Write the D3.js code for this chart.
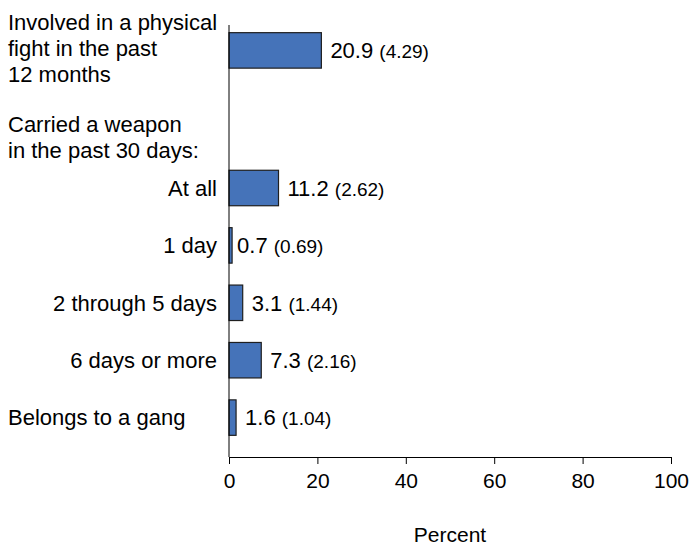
<!DOCTYPE html>
<html>
<head>
<meta charset="utf-8">
<script src="https://cdn.jsdelivr.net/npm/d3@7"></script>
<style>
  html, body { margin: 0; padding: 0; background: #fff; }
  svg { display: block; font-family: "Liberation Sans", Arial, sans-serif; }
</style>
</head>
<body>
<svg id="chart" width="690" height="546"></svg>
<script>
// ---- Data ----
const topCategory = "Involved in a physical fight in the past 12 months";
const topLabelLines = ["Involved in a physical", "fight in the past", "12 months"];
const topValue = 20.9;
const topError = 4.29;

const headerLines = ["Carried a weapon", "in the past 30 days:"];

const categories = ["At all", "1 day", "2 through 5 days", "6 days or more", "Belongs to a gang"];
const values = [11.2, 0.7, 3.1, 7.3, 1.6];
const stdErrors = [2.62, 0.69, 1.44, 2.16, 1.04];
const leftAligned = ["Belongs to a gang"];

const xTicks = [0, 20, 40, 60, 80, 100];
const xTitle = "Percent";

// ---- Layout ----
const svg = d3.select("#chart");
const x0 = 229, x1 = 671, axisY = 457, axisTop = 25;
const barFill = "#4573b9", barStroke = "#1f1f1f";

const x = d3.scaleLinear().domain([0, 100]).range([x0, x1]);
const y = d3.scaleBand().domain(categories).range([159.3, 446.3])
  .paddingInner(0.382).paddingOuter(0.191);

const topBarY = y(categories[0]) - 137.6;

// rows combined
const rows = [{cat: topCategory, v: topValue, se: topError, yTop: topBarY}]
  .concat(categories.map((c, i) => ({cat: c, v: values[i], se: stdErrors[i], yTop: y(c)})));

const bw = y.bandwidth();

// bars
svg.append("g").selectAll("rect").data(rows).join("rect")
  .attr("x", x(0))
  .attr("y", d => d.yTop)
  .attr("width", d => x(d.v) - x(0))
  .attr("height", bw)
  .attr("fill", barFill)
  .attr("stroke", barStroke)
  .attr("stroke-width", 1.2);

// value labels
const vl = svg.append("g").selectAll("text").data(rows).join("text")
  .attr("x", d => x(d.v) + (d.v < 1 ? 5 : 9))
  .attr("y", d => d.yTop + bw / 2)
  .attr("dy", "0.35em")
  .attr("font-size", 22)
  .attr("fill", "#000");
vl.append("tspan").text(d => d.v.toFixed(1) + " ");
vl.append("tspan").attr("font-size", 19).text(d => "(" + d.se.toFixed(2) + ")");

// category labels (right-aligned)
svg.append("g").selectAll("text")
  .data(categories.filter(c => !leftAligned.includes(c))).join("text")
  .attr("x", 217)
  .attr("y", d => y(d) + bw / 2)
  .attr("dy", "0.35em")
  .attr("text-anchor", "end")
  .attr("font-size", 22)
  .text(d => d);

// left-aligned category labels
svg.append("g").selectAll("text")
  .data(categories.filter(c => leftAligned.includes(c))).join("text")
  .attr("x", 8)
  .attr("y", d => y(d) + bw / 2)
  .attr("dy", "0.35em")
  .attr("font-size", 22)
  .text(d => d);

// top multi-line label
svg.append("g").selectAll("text").data(topLabelLines).join("text")
  .attr("x", 8)
  .attr("y", (d, i) => topBarY + bw / 2 - 20.5 + i * 26)
  .attr("font-size", 22)
  .text(d => d);

// header
svg.append("g").selectAll("text").data(headerLines).join("text")
  .attr("x", 8)
  .attr("y", (d, i) => 131.7 + i * 26.3)
  .attr("font-size", 22)
  .text(d => d);

// y axis line
svg.append("line")
  .attr("x1", x0).attr("x2", x0)
  .attr("y1", axisTop).attr("y2", axisY)
  .attr("stroke", "#000").attr("stroke-width", 1);

// x axis
const xAxis = svg.append("g")
  .attr("transform", `translate(0,${axisY})`)
  .call(d3.axisBottom(x).tickValues(xTicks).tickSize(7).tickSizeOuter(0).tickPadding(9));
xAxis.select(".domain").attr("stroke", "#000");
xAxis.selectAll(".tick line").attr("stroke", "#000");
xAxis.selectAll(".tick text")
  .attr("font-size", 21)
  .attr("font-family", "Liberation Sans, Arial, sans-serif")
  .attr("fill", "#000");

// x title
svg.append("text")
  .attr("x", (x0 + x1) / 2)
  .attr("y", 542)
  .attr("text-anchor", "middle")
  .attr("font-size", 21)
  .text(xTitle);
</script>
</body>
</html>
